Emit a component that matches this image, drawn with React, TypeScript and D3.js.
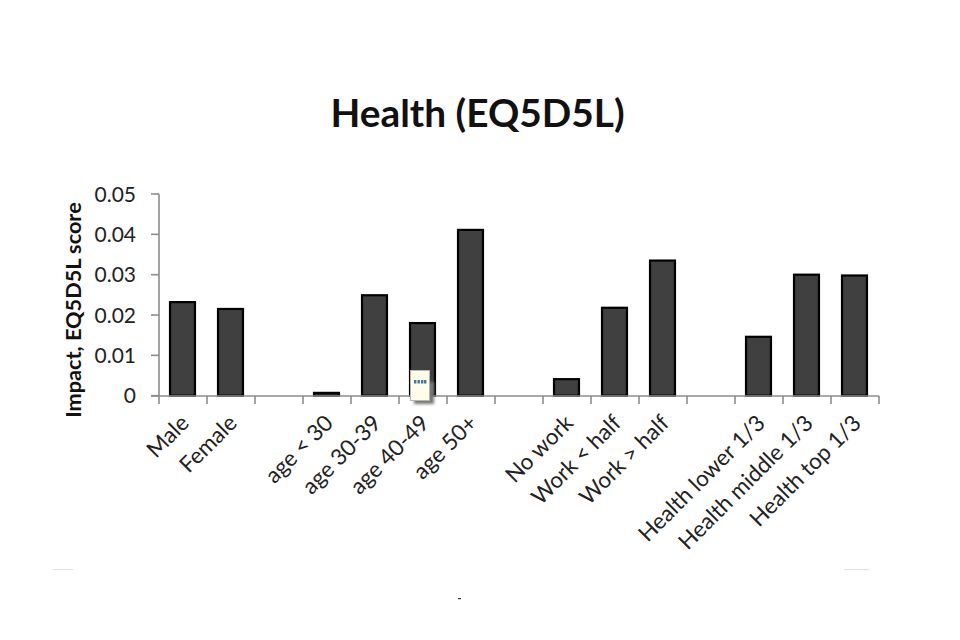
import React from "react";
import * as d3 from "d3";

const categories = ["Male","Female","gap1","age < 30","age 30-39","age 40-49","age 50+","gap2","No work","Work < half","Work > half","gap3","Health lower 1/3","Health middle 1/3","Health top 1/3"];
const values = [0.0232,0.0215,null,0.0007,0.0249,0.018,0.0411,null,0.0041,0.0218,0.0335,null,0.0146,0.03,0.0298];
const yTicks = [0,0.01,0.02,0.03,0.04,0.05];
const titleText = "Health (EQ5D5L)";
const yAxisLabel = "Impact, EQ5D5L score";

const FONT = "Lato, 'Open Sans', sans-serif";

export default function App() {
  const x = d3.scaleBand<string>().domain(categories).range([159, 879]).paddingInner(0.48).paddingOuter(0.24);
  const y = d3.scaleLinear().domain([0, 0.05]).range([395.7, 194]);
  const step = x.step();
  const axisColor = "#8c8c8c";
  const tickXs = d3.range(categories.length + 1).map((i) => 159 + i * step);
  return (
    <svg width={960} height={640} style={{ position: "absolute", left: 0, top: 0, background: "#fff" }} fontFamily={FONT}>
      <defs>
        <filter id="tipShadow" x="-40%" y="-40%" width="180%" height="180%">
          <feGaussianBlur stdDeviation="1.5" />
        </filter>
      </defs>
      <text x={477.5} y={127} textAnchor="middle" fontSize={38.8} fontWeight={700} fill="#111">{titleText}</text>
      <text transform="translate(81,310) rotate(-90)" textAnchor="middle" fontSize={21.7} fontWeight={700} fill="#111">{yAxisLabel}</text>

      {categories.map((c, i) => {
        const v = values[i];
        if (v == null) return null;
        const bx = x(c)!;
        return <rect key={c} x={bx - 0.5} y={y(v)} width={x.bandwidth()} height={y(0) - y(v)} fill="#404040" stroke="#000" strokeWidth={2.2} />;
      })}

      <line x1={159} x2={159} y1={194} y2={396} stroke={axisColor} strokeWidth={1.6} />
      <line x1={151} x2={879} y1={396} y2={396} stroke={axisColor} strokeWidth={1.6} />
      {yTicks.map((t) => (
        <g key={t}>
          <line x1={151} x2={159} y1={y(t)} y2={y(t)} stroke={axisColor} strokeWidth={1.6} />
          <text x={136} y={y(t) + 7.5} textAnchor="end" fontSize={21} fill="#222">{t === 0 ? "0" : t.toFixed(2)}</text>
        </g>
      ))}
      {tickXs.map((tx) => (
        <line key={tx} x1={tx} x2={tx} y1={396} y2={404} stroke={axisColor} strokeWidth={1.6} />
      ))}
      {categories.map((c) =>
        c.startsWith("gap") ? null : (
          <text key={c} transform={`translate(${x(c)! + x.bandwidth() / 2 - 5},${412}) rotate(-45)`} textAnchor="end" dominantBaseline="hanging" fontSize={22.4} fill="#222">{c}</text>
        )
      )}

      <rect x={414} y={382} width={20} height={22} fill="#777" filter="url(#tipShadow)" />
      <rect x={410.5} y={370.5} width={19} height={30} fill="#fffde6" stroke="#b5b5b5" strokeWidth={1} />
      {[414, 417.5, 421, 424].map((px) => (
        <rect key={px} x={px} y={380} width={2.4} height={3.5} fill="#3a78a8" />
      ))}

      <rect x={53} y={569} width={20} height={1.2} fill="#e3e3e3" />
      <rect x={844} y={569} width={25} height={1.2} fill="#e3e3e3" />
      <rect x={458} y={598} width={3} height={1.2} fill="#333" />
    </svg>
  );
}
